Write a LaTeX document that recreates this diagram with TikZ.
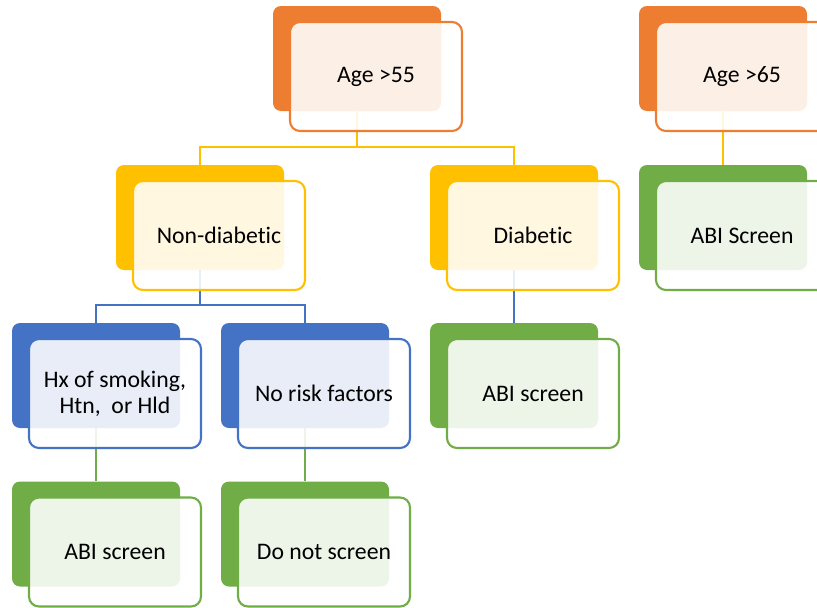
\documentclass[tikz,border=0pt]{standalone}
\usepackage{fontspec}
\setmainfont{Carlito}[Ligatures={NoCommon}, RawFeature={-liga;-clig;-dlig;-calt}]
\usetikzlibrary{calc}
\pgfdeclarelayer{wires}
\pgfsetlayers{wires,main}
\definecolor{cOrange}{HTML}{ED7D31}
\definecolor{cGold}{HTML}{FFC000}
\definecolor{cBlue}{HTML}{4472C4}
\definecolor{cGreen}{HTML}{70AD47}

\tikzset{
  back/.style={draw=none, fill=#1, rounded corners=6pt,
    minimum width=126pt, minimum height=78.75pt, inner sep=0pt},
  front/.style={draw=#1, line width=1.6pt, fill=white, fill opacity=0.88,
    text opacity=1, rounded corners=7.5pt, minimum width=129pt,
    minimum height=81.75pt, inner sep=0pt, align=center, text=black,
    font=\fontsize{17.8}{19.5}\selectfont},
  wire/.style={draw=#1, line width=1.7pt},
}

% one tier box: solid back card plus translucent framed front card
% #1 name, #2 x, #3 y, #4 colour, #5 text
\newcommand\tierbox[5]{%
  \node[back=#4] (#1b) at (#2,#3) {};
  \node[front=#4] (#1) at ($(#1b)+(19,18)$) {#5};
}

\begin{document}
\begin{tikzpicture}[x=0.75pt, y=-0.75pt]
  \useasboundingbox (0,0) rectangle (817,607);
  \clip (0,0) rectangle (817,607);

  \tierbox{a55}{357}{58.5}{cOrange}{Age >55}
  \tierbox{a65}{723}{58.5}{cOrange}{Age >65}

  \tierbox{nd}{200}{217.5}{cGold}{Non-diabetic}
  \tierbox{db}{514}{217.5}{cGold}{Diabetic}
  \tierbox{abr}{723}{217.5}{cGreen}{ABI Screen}

  \tierbox{hx}{96}{375.5}{cBlue}{Hx of smoking,\\ Htn,\ \ or Hld}
  \tierbox{nr}{305}{375.5}{cBlue}{No risk factors}
  \tierbox{abm}{514}{375.5}{cGreen}{ABI screen}

  \tierbox{abl}{96}{534}{cGreen}{ABI screen}
  \tierbox{dns}{305}{534}{cGreen}{Do not screen}

  \begin{pgfonlayer}{wires}
    \draw[wire=cGold] (a55b.south) -- ++(0,36) coordinate (j1);
    \draw[wire=cGold] (j1) -| (ndb.north);
    \draw[wire=cGold] (j1) -| (dbb.north);
    \draw[wire=cGold] (a65b.south) -- (abrb.north);
    \draw[wire=cBlue] (ndb.south) -- ++(0,35) coordinate (j2);
    \draw[wire=cBlue] (j2) -| (hxb.north);
    \draw[wire=cBlue] (j2) -| (nrb.north);
    \draw[wire=cBlue] (dbb.south) -- (abmb.north);
    \draw[wire=cGreen] (hxb.south) -- (ablb.north);
    \draw[wire=cGreen] (nrb.south) -- (dnsb.north);
  \end{pgfonlayer}
\end{tikzpicture}
\end{document}
